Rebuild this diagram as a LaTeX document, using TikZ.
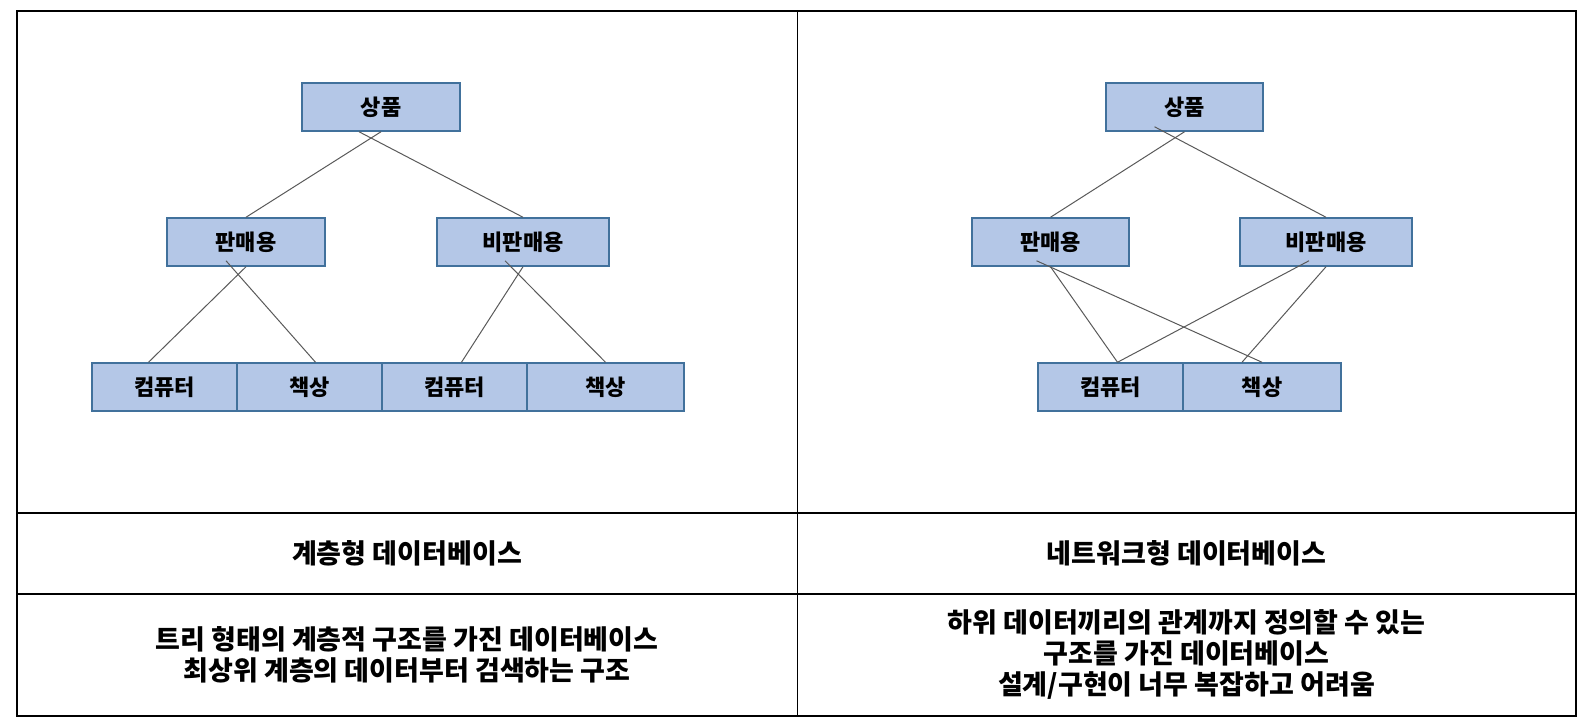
\documentclass[tikz,border=0pt]{standalone}
\usepackage{fontspec}
\setmainfont{Noto Sans CJK KR}
\definecolor{boxfill}{HTML}{B4C7E7}
\definecolor{boxline}{HTML}{41719C}
\definecolor{wire}{HTML}{595959}

\begin{document}
\begin{tikzpicture}[x=1pt,y=-1pt,
                    item/.style={rectangle,draw=boxline,fill=boxfill,line width=1.5pt,minimum height=48pt,inner sep=0pt,font=\fontsize{22}{24}\selectfont\bfseries},
                    link/.style={draw=wire,line width=1pt},
                    cell/.style={align=center,font=\fontsize{27}{31}\selectfont\bfseries}]
  \useasboundingbox (0,0) rectangle (1591,726);

  % table
  \draw[line width=2pt] (17,11) rectangle (1576,716);
  \draw[line width=2pt] (17,513) -- (1576,513) (17,594) -- (1576,594);
  \draw[line width=1pt] (797,11) -- (797,716);

  % hierarchical
  \node[item,minimum width=158pt] (t1) at (381,107) {상품};
    \node[item,minimum width=158pt] (s1) at (246,242) {판매용};
  \node[item,minimum width=172pt] (n1) at (523,242) {비판매용};
  \node[item,minimum width=145pt] (c1) at (164.5,387) {컴퓨터};
    \node[item,minimum width=145pt] (d1) at (309.5,387) {책상};
  \node[item,minimum width=145pt] (c2) at (454.5,387) {컴퓨터};
    \node[item,minimum width=157pt] (d2) at (605.5,387) {책상};

  \path[link]
    (t1.south) edge (s1.north)
    ([xshift=-22pt]t1.south) edge (n1.north)
    (s1.south) edge ([xshift=-16pt]c1.north)
    ([xshift=-20pt,yshift=6pt]s1.south) edge ([xshift=6pt]d1.north)
    (n1.south) edge ([xshift=7pt]c2.north)
    ([xshift=-18pt,yshift=6pt]n1.south) edge (d2.north);

  % network
  \node[item,minimum width=157pt] (t2) at (1184.5,107) {상품};
    \node[item,minimum width=157pt] (s2) at (1050.5,242) {판매용};
  \node[item,minimum width=172pt] (n2) at (1326,242) {비판매용};
  \node[item,minimum width=145pt] (c3) at (1110.5,387) {컴퓨터};
    \node[item,minimum width=158pt] (d3) at (1262,387) {책상};

  \path[link]
    (t2.south) edge (s2.north)
    ([xshift=-30pt,yshift=5pt]t2.south) edge (n2.north)
    (s2.south) edge ([xshift=7pt]c3.north)
    ([xshift=-14pt,yshift=6pt]s2.south) edge (d3.north)
    ([xshift=-17pt,yshift=6pt]n2.south) edge ([xshift=7pt]c3.north)
    (n2.south) edge ([xshift=-20pt]d3.north);

  % captions
  \node[cell] (h1) at (407,553.5) {계층형 데이터베이스};
  \node[cell] (h2) at (1186.5,553.5) {네트워크형 데이터베이스};
  \node[cell] (e1) at (407,655) {트리 형태의 계층적 구조를 가진 데이터베이스\\최상위 계층의 데이터부터 검색하는 구조};
  \node[cell] (e2) at (1186.5,654) {하위 데이터끼리의 관계까지 정의할 수 있는\\구조를 가진 데이터베이스\\설계/구현이 너무 복잡하고 어려움};
\end{tikzpicture}
\end{document}
